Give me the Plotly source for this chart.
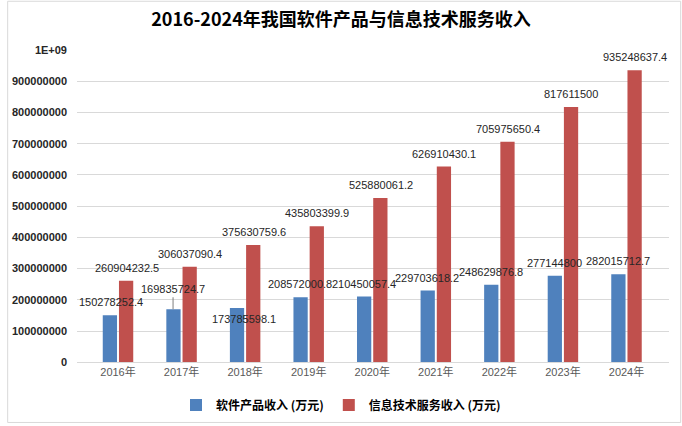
import plotly.graph_objects as go

years = ["2016年", "2017年", "2018年", "2019年", "2020年", "2021年", "2022年", "2023年", "2024年"]
software = [150278252.4, 169835724.7, 173785598.1, 208572000.8, 210450057.4,
            229703618.2, 248629876.8, 277144800, 282015712.7]
service = [260904232.5, 306037090.4, 375630759.6, 435803399.9, 525880061.2,
           626910430.1, 705975650.4, 817611500, 935248637.4]
series_names = ["软件产品收入 (万元)", "信息技术服务收入 (万元)"]
y_tickvals = [0, 1e8, 2e8, 3e8, 4e8, 5e8, 6e8, 7e8, 8e8, 9e8, 1e9]
y_ticktext = ["0", "100000000", "200000000", "300000000", "400000000", "500000000",
              "600000000", "700000000", "800000000", "900000000", "1E+09"]

BLUE = "#4F81BD"
RED = "#C0504D"


def fmt(v):
    s = f"{v:.1f}"
    if s.endswith(".0"):
        s = s[:-2]
    return s


fig = go.Figure()

fig.add_trace(go.Bar(x=years, y=software, name=series_names[0], marker_color=BLUE,
                     marker_line_width=0))
fig.add_trace(go.Bar(x=years, y=service, name=series_names[1], marker_color=RED,
                     marker_line_width=0))

# data labels (Excel-like, some manually moved in the original)
nudge = {(0, 0): (1.5, 0), (0, 2): (7, -24)}
leader = {(0, 1): 12}
label_font = dict(family="Liberation Sans, Arial", size=11, color="#262626")
for si, vals in enumerate([software, service]):
    xoff = -8.5 if si == 0 else 8.5
    for i, v in enumerate(vals):
        dx, dy = nudge.get((si, i), (0, 0))
        if (si, i) in leader:
            fig.add_annotation(x=years[i], y=v, text=fmt(v), showarrow=True,
                               arrowhead=0, arrowwidth=1, arrowcolor="#7f7f7f",
                               ax=0, ay=-leader[(si, i)], xshift=xoff, standoff=0,
                               font=label_font, yanchor="bottom")
        else:
            fig.add_annotation(x=years[i], y=v, text=fmt(v), showarrow=False,
                               xshift=xoff + dx, yshift=5 + dy, yanchor="bottom",
                               font=label_font)

fig.update_layout(
    width=682, height=426,
    margin=dict(l=71, r=13, t=50, b=62),
    paper_bgcolor="white", plot_bgcolor="white",
    barmode="group", bargap=0.49, bargroupgap=0.12,
    title=dict(text="2016-2024年我国软件产品与信息技术服务收入",
               x=0.5, xref="container", xanchor="center",
               y=1 - 20 / 426, yref="container", yanchor="middle",
               font=dict(family="Noto Sans CJK SC", size=18, color="#000000", weight="bold")),
    xaxis=dict(showgrid=False, showline=True, linecolor="#D9D9D9", linewidth=1,
               ticks="", tickfont=dict(family="Liberation Sans, Noto Sans CJK SC", size=11,
                                       color="#595959")),
    yaxis=dict(range=[0, 1e9], tickvals=y_tickvals,
               ticktext=["<b>" + t + "</b>" for t in y_ticktext],
               showgrid=True, gridcolor="#D9D9D9", gridwidth=1, zeroline=False,
               showline=False, ticklabelstandoff=9,
               tickfont=dict(family="Liberation Sans, Arial", size=11, color="#262626")),
    legend=dict(orientation="h", xref="container", x=0.5, xanchor="center",
                yref="container", y=21 / 426, yanchor="middle",
                font=dict(family="Noto Sans CJK SC", size=12, color="#000000", weight="bold"),
                itemwidth=30, tracegroupgap=0),
    showlegend=True,
    shapes=[dict(type="rect", xref="paper", yref="paper",
                 x0=(1 - 71) / 597.7, x1=(680.5 - 71) / 597.7,
                 y0=(364 - 424.5) / 314, y1=(364 - 1) / 314,
                 line=dict(color="#D9D9D9", width=1), layer="below")],
)

fig.write_html("out.html")
